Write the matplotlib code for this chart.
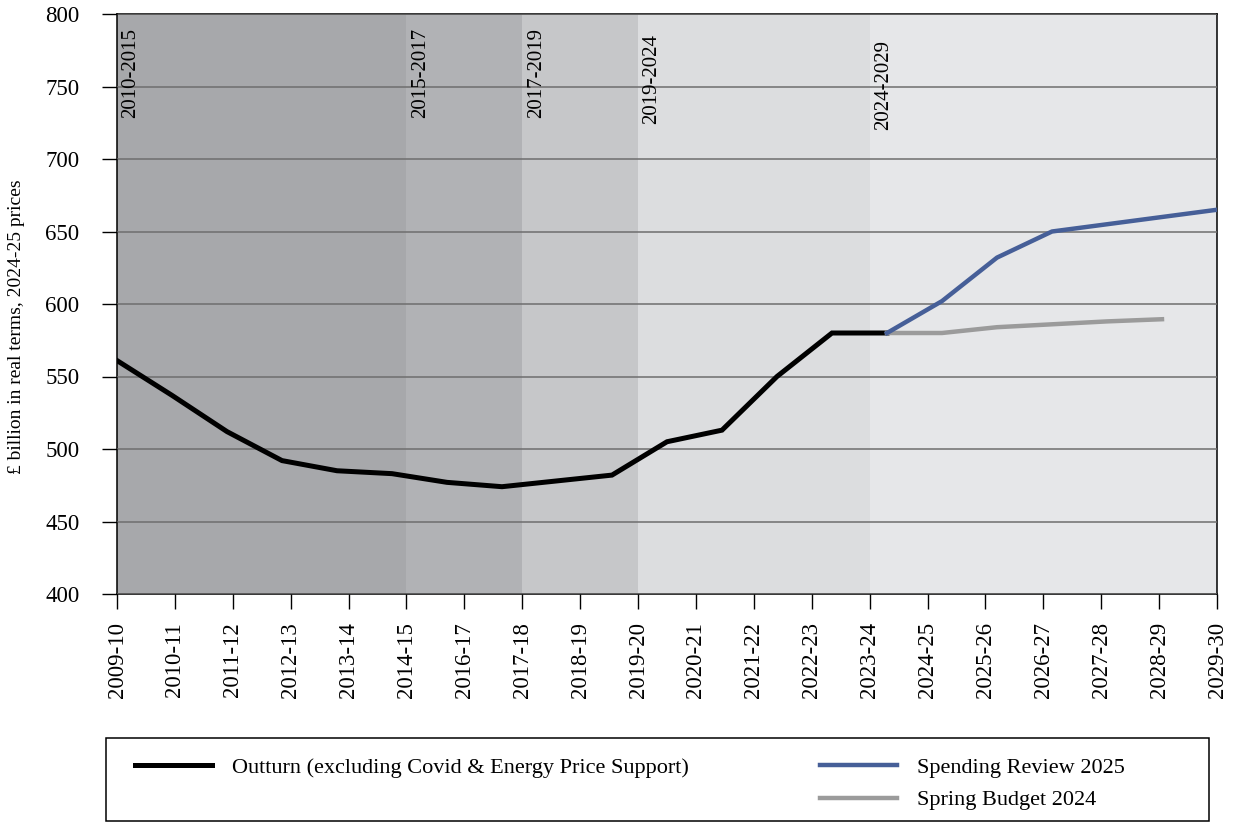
import numpy as np
import matplotlib
matplotlib.use("Agg")
import matplotlib.pyplot as plt
from matplotlib.lines import Line2D
from matplotlib.patches import Rectangle

plt.rcParams['font.family'] = ['Liberation Serif', 'DejaVu Serif']

# all financial years in the data (one point per year)
years = ['2009-10', '2010-11', '2011-12', '2012-13', '2013-14', '2014-15',
         '2015-16', '2016-17', '2017-18', '2018-19', '2019-20', '2020-21',
         '2021-22', '2022-23', '2023-24', '2024-25', '2025-26', '2026-27',
         '2027-28', '2028-29', '2029-30']

# labels printed under the axis (2015-16 is not shown in the original)
tick_labels = ['2009-10', '2010-11', '2011-12', '2012-13', '2013-14', '2014-15',
               '2016-17', '2017-18', '2018-19', '2019-20', '2020-21', '2021-22',
               '2022-23', '2023-24', '2024-25', '2025-26', '2026-27', '2027-28',
               '2028-29', '2029-30']

outturn = [561, 537, 512, 492, 485, 483, 477, 474, 478, 482, 505, 513, 550, 580, 580]
spending_review = [580, 602, 632, 650, 655, 660, 665]
spring_budget = [580, 580, 584, 586, 588, 589.5]

# shaded periods: label, first tick label of the period
periods = ['2010-2015', '2015-2017', '2017-2019', '2019-2024', '2024-2029']
period_start = ['2009-10', '2014-15', '2017-18', '2019-20', '2023-24']
period_colors = ['#a7a8ab', '#b1b2b5', '#c6c7c9', '#dcdddf', '#e6e7e9']
label_bottom = [728, 728, 728, 724, 720]

fig = plt.figure(figsize=(12.34, 8.23), dpi=100)
ax = fig.add_axes([117/1234, 1 - 594/823, 1100/1234, 580/823])

n = len(years) - 1
tick_pos = np.linspace(0, n, len(tick_labels))
xi = np.arange(len(years))

# background bands
starts = [tick_pos[tick_labels.index(s)] for s in period_start] + [n]
for i, lab in enumerate(periods):
    ax.axvspan(starts[i], starts[i + 1], color=period_colors[i], lw=0, zorder=0)
    ax.annotate(lab, (starts[i], label_bottom[i]), xytext=(10, 0),
                textcoords='offset points', rotation=90, ha='center',
                va='bottom', fontsize=15, zorder=3)

ax.set_ylim(400, 800)
ax.set_xlim(0, n)
ax.set_yticks(np.arange(400, 801, 50))
ax.yaxis.grid(True, color='#6e6e6e', lw=1.1, zorder=1)
ax.set_axisbelow(False)

l1, = ax.plot(xi[:len(outturn)], outturn, color='black', lw=3.6,
              solid_joinstyle='miter', zorder=4)
s0 = len(outturn) - 1
l3, = ax.plot(xi[s0:s0 + len(spring_budget)], spring_budget, color='#9b9b9b',
              lw=3.2, zorder=4)
l2, = ax.plot(xi[s0:s0 + len(spending_review)], spending_review, color='#465f98',
              lw=3.2, zorder=5)

ax.set_xticks(tick_pos)
ax.set_xticklabels(tick_labels, rotation=90)
ax.tick_params(axis='x', length=11, width=1, pad=9, labelsize=16.5)
ax.tick_params(axis='y', length=11, width=1, pad=16, labelsize=16.5)
for sp in ax.spines.values():
    sp.set_color('black')
    sp.set_linewidth(1.1)

ax.set_ylabel('£ billion in real terms, 2024-25 prices', fontsize=14)
ax.yaxis.set_label_coords((25 - 117) / 1100, (594 - 327) / 580)

# legend frame drawn separately so it matches the wide box
fig.patches.append(Rectangle((106/1234, 1 - 821/823), 1103/1234, 83/823,
                             transform=fig.transFigure, fill=False,
                             ec='black', lw=1.1))
blank = Line2D([], [], color='none')
fig.legend([l1, blank, l2, l3],
           ['Outturn (excluding Covid & Energy Price Support)', '',
            'Spending Review 2025', 'Spring Budget 2024'],
           ncol=2, loc='upper left', bbox_to_anchor=(135/1234, 1 - 757/823),
           frameon=False, fontsize=16, handlelength=3.47, handletextpad=0.9,
           columnspacing=5.9, borderpad=0, borderaxespad=0, labelspacing=0.55)

fig.savefig('out.png', dpi=100)
